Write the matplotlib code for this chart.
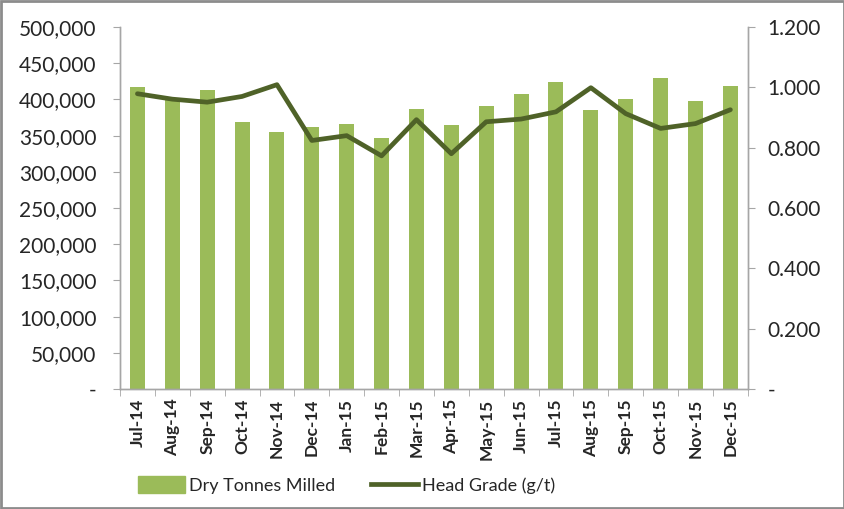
import matplotlib.pyplot as plt
import numpy as np
from matplotlib.ticker import FuncFormatter, FixedLocator
from matplotlib.patches import Rectangle
from matplotlib.lines import Line2D

plt.rcParams['font.family'] = ['Lato', 'DejaVu Sans']

months = ['Jul-14', 'Aug-14', 'Sep-14', 'Oct-14', 'Nov-14', 'Dec-14', 'Jan-15', 'Feb-15', 'Mar-15',
          'Apr-15', 'May-15', 'Jun-15', 'Jul-15', 'Aug-15', 'Sep-15', 'Oct-15', 'Nov-15', 'Dec-15']
tonnes = [417000, 402000, 413500, 369300, 355500, 362000, 366500, 346200, 386800,
          364700, 391400, 407000, 424500, 385000, 400700, 430100, 397900, 419000]
grade = [0.979, 0.961, 0.951, 0.970, 1.009, 0.824, 0.840, 0.773, 0.893,
         0.780, 0.886, 0.895, 0.919, 0.999, 0.913, 0.864, 0.880, 0.926]

bar_col = '#9BBB59'
line_col = '#4F6228'
axis_col = '#A6A6A6'
text_col = '#262626'

fig = plt.figure(figsize=(8.45, 5.09), dpi=100)
ax = fig.add_axes([0.142, 0.2358, 0.743, 0.711])
ax2 = ax.twinx()

x = np.arange(len(months))
ax.bar(x, tonnes, width=0.43, color=bar_col, zorder=2)
ax2.plot(x, grade, color=line_col, linewidth=3.4, solid_capstyle='round', solid_joinstyle='round')

ax.set_xlim(-0.5, len(months) - 0.5)
ax.set_ylim(0, 500000)
ax2.set_ylim(0, 1.2)

ax.yaxis.set_major_locator(FixedLocator(np.arange(0, 500001, 50000)))
ax.yaxis.set_major_formatter(FuncFormatter(lambda v, p: '-' if v == 0 else f'{v:,.0f}'))
ax2.yaxis.set_major_locator(FixedLocator(np.arange(0, 1.21, 0.2)))
ax2.yaxis.set_major_formatter(FuncFormatter(lambda v, p: '-' if abs(v) < 1e-9 else f'{v:.3f}'))

ax.set_xticks(x)
ax.set_xticklabels(months, rotation=90, fontsize=12.5, fontweight='bold', color=text_col)
ax.xaxis.set_minor_locator(FixedLocator(np.arange(-0.5, len(months), 1.0)))
ax.tick_params(axis='x', which='major', length=0, pad=7)
ax.tick_params(axis='x', which='minor', length=5, color=axis_col, direction='out')
ax.tick_params(axis='y', length=5, color=axis_col, labelsize=15, labelcolor=text_col, pad=12)
ax2.tick_params(axis='y', length=5, color=axis_col, labelsize=15, labelcolor=text_col, pad=9)

for a in (ax, ax2):
    a.spines['top'].set_visible(False)
    for s in ('left', 'right', 'bottom'):
        a.spines[s].set_color(axis_col)
        a.spines[s].set_linewidth(1.0)

handles = [Rectangle((0, 0), 1, 1, color=bar_col), Line2D([0], [0], color=line_col, linewidth=3.4)]
fig.legend(handles, ['Dry Tonnes Milled', 'Head Grade (g/t)'], loc='center', bbox_to_anchor=(0.41, 0.047),
           ncol=2, frameon=False, fontsize=13, handlelength=2.6, handleheight=1.0, columnspacing=2.0,
           handletextpad=0.2, labelcolor=text_col)

fig.patches.append(Rectangle((0.001, 0.001), 0.998, 0.997, transform=fig.transFigure, fill=False,
                             edgecolor='#8C8C8C', linewidth=2))

plt.savefig('out.png', dpi=100, facecolor='w')
